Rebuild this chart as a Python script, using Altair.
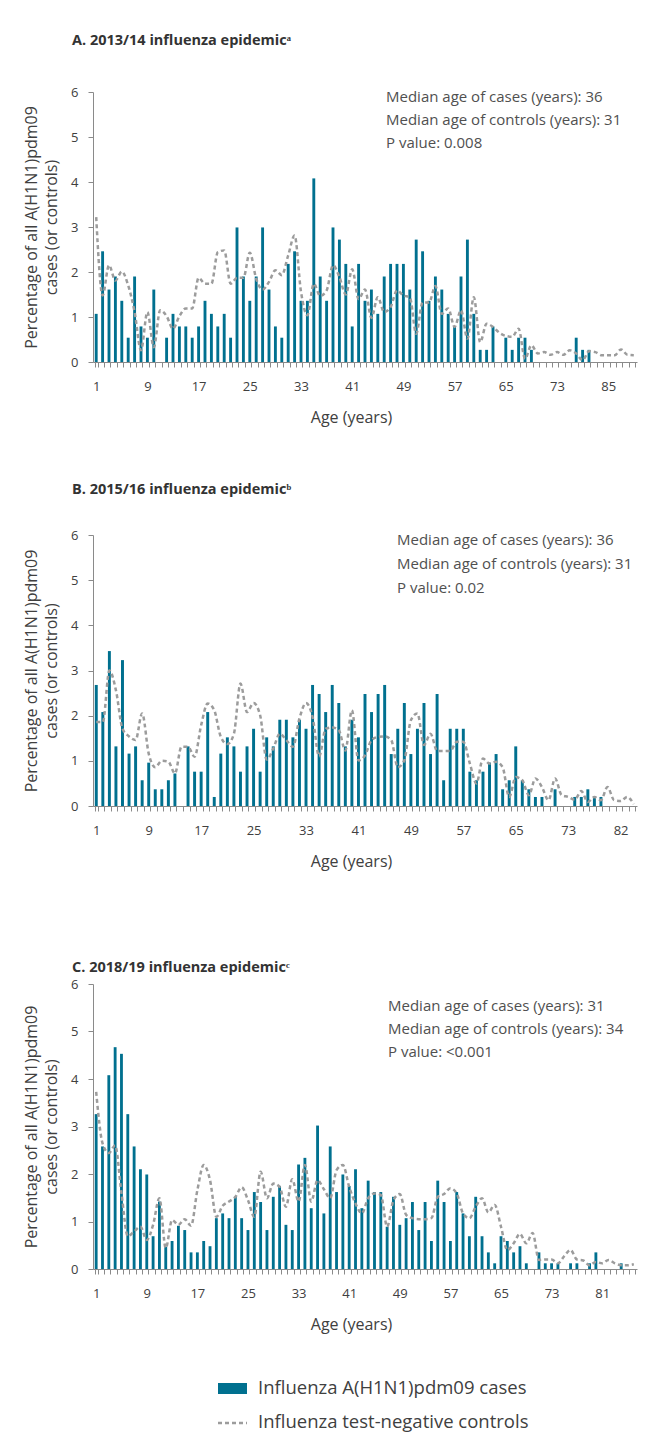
import altair as alt
import pandas as pd

TEAL = "#00708f"
GRAY = "#9c9c9c"
FONT = "Open Sans"

# ---------------- data ----------------
ages_a = [str(i) for i in range(1, 74)] + ["74", "75", "76", "77", "78", "79", "81", "85", "86", "87", "88", "89"]
cases_a = [1.07, 2.46, 1.61, 1.90, 1.36, 0.54, 1.90, 0.79, 0.54, 1.61,
           0.00, 0.54, 1.07, 0.79, 0.79, 0.54, 0.79, 1.36, 1.07, 0.79,
           1.07, 0.54, 2.99, 1.90, 1.36, 1.90, 2.99, 1.61, 0.79, 0.54,
           2.18, 2.46, 1.36, 1.36, 4.08, 1.90, 1.36, 2.99, 2.72, 2.18,
           0.79, 2.18, 1.36, 1.61, 1.07, 1.90, 2.18, 2.18, 2.18, 1.61,
           2.72, 2.46, 1.36, 1.90, 1.61, 1.07, 0.79, 1.90, 2.72, 1.07,
           0.27, 0.27, 0.79, 0.00, 0.54, 0.27, 0.54, 0.54, 0.27, 0.00,
           0.00, 0.00, 0.00, 0.00, 0.00, 0.54, 0.27, 0.27, 0.00, 0.00,
           0.00, 0.00, 0.00, 0.00, 0.00]
controls_a = [3.22, 1.48, 2.15, 1.81, 2.01, 1.70, 1.11, 0.26, 1.11, 0.33,
              1.15, 1.02, 0.74, 1.02, 1.19, 1.19, 1.87, 1.74, 1.74, 2.44,
              2.48, 1.74, 1.87, 1.87, 2.43, 1.85, 1.61, 1.78, 2.04, 1.93,
              2.37, 2.81, 1.56, 1.04, 1.74, 1.47, 1.59, 2.15, 1.89, 1.50,
              2.06, 1.40, 1.61, 0.98, 1.44, 1.11, 1.22, 1.59, 1.48, 1.44,
              0.63, 1.32, 1.32, 1.69, 1.07, 1.19, 0.78, 1.15, 0.52, 1.44,
              0.44, 0.85, 0.78, 0.65, 0.58, 0.56, 0.74, 0.07, 0.37, 0.19,
              0.22, 0.16, 0.22, 0.16, 0.26, 0.19, 0.04, 0.24, 0.22, 0.15,
              0.15, 0.15, 0.28, 0.16, 0.15]

ages_b = [str(i) for i in range(1, 74)] + ["74", "75", "76", "77", "78", "79", "80", "82", "83", "84"]
cases_b = [2.68, 2.08, 3.43, 1.32, 3.23, 1.16, 1.32, 0.57, 0.96, 0.37,
           0.37, 0.57, 0.72, 0.00, 1.32, 0.76, 0.76, 2.08, 0.20, 1.16,
           1.52, 1.32, 0.76, 1.32, 1.71, 0.76, 1.52, 1.32, 1.91, 1.91,
           1.52, 1.91, 1.71, 2.68, 2.48, 2.08, 2.68, 2.28, 1.32, 1.91,
           1.52, 2.48, 2.08, 2.48, 2.68, 1.15, 1.71, 2.28, 1.15, 1.71,
           2.28, 1.15, 2.48, 0.57, 1.71, 1.71, 1.71, 0.76, 0.57, 0.76,
           0.96, 1.15, 0.37, 0.57, 1.32, 0.57, 0.37, 0.20, 0.20, 0.00,
           0.37, 0.00, 0.00, 0.20, 0.20, 0.37, 0.20, 0.20, 0.00, 0.00,
           0.00, 0.00, 0.00]
controls_b = [1.86, 1.86, 3.00, 2.56, 1.71, 1.54, 1.46, 2.05, 1.16, 0.86,
              1.00, 0.98, 0.72, 1.31, 1.31, 1.09, 1.79, 2.27, 2.12, 1.53,
              1.37, 1.60, 2.71, 2.08, 2.28, 2.01, 1.03, 1.27, 1.60, 1.46,
              1.31, 1.94, 2.28, 1.97, 1.10, 1.71, 1.74, 1.68, 1.23, 2.12,
              1.01, 1.12, 1.46, 1.53, 1.54, 1.46, 0.86, 1.01, 1.90, 2.05,
              1.35, 1.60, 1.22, 1.22, 1.22, 1.42, 1.42, 0.94, 0.50, 1.05,
              0.94, 0.98, 0.86, 0.20, 0.64, 0.57, 0.24, 0.61, 0.42, 0.13,
              0.61, 0.24, 0.20, 0.14, 0.33, 0.09, 0.20, 0.13, 0.42, 0.13,
              0.11, 0.20, 0.04]

ages_c = [str(i) for i in range(1, 87)]
cases_c = [3.26, 2.58, 4.08, 4.67, 4.53, 3.26, 2.58, 2.10, 1.99, 0.69,
           1.42, 0.47, 0.59, 0.91, 0.82, 0.35, 0.35, 0.59, 0.48, 1.07,
           1.17, 1.07, 1.52, 1.07, 0.82, 1.62, 1.41, 0.82, 1.52, 1.75,
           0.93, 0.82, 2.20, 2.34, 1.28, 3.02, 1.17, 2.58, 1.62, 1.99,
           1.75, 2.10, 1.28, 1.86, 1.62, 1.62, 0.89, 1.52, 0.93, 1.07,
           1.41, 0.82, 1.41, 0.59, 1.86, 1.41, 0.59, 1.62, 1.17, 0.69,
           1.52, 0.69, 0.35, 0.12, 0.69, 0.59, 0.35, 0.48, 0.12, 0.00,
           0.35, 0.12, 0.12, 0.12, 0.00, 0.12, 0.12, 0.00, 0.12, 0.35,
           0.00, 0.00, 0.00, 0.12, 0.00, 0.00]
controls_c = [3.73, 2.65, 2.44, 2.60, 1.60, 0.69, 0.79, 0.89, 0.61, 0.93,
              1.49, 0.44, 1.03, 0.93, 1.05, 0.91, 1.66, 2.19, 1.87, 1.10,
              1.33, 1.42, 1.52, 1.72, 1.45, 1.10, 2.05, 1.49, 1.80, 1.73,
              1.31, 1.89, 1.42, 2.19, 1.42, 1.87, 1.68, 1.49, 2.08, 2.19,
              1.73, 1.38, 1.17, 1.49, 1.59, 1.56, 0.89, 1.45, 1.58, 1.14,
              1.07, 1.05, 1.05, 1.07, 1.52, 1.58, 1.70, 1.59, 1.17, 1.07,
              1.31, 1.49, 1.19, 1.35, 0.89, 0.40, 0.54, 0.74, 0.54, 0.76,
              0.19, 0.20, 0.20, 0.12, 0.27, 0.40, 0.20, 0.18, 0.08, 0.15,
              0.12, 0.19, 0.12, 0.08, 0.08, 0.10]

titles = ["A. 2013/14 influenza epidemic\u1d43",
          "B. 2015/16 influenza epidemic\u1d47",
          "C. 2018/19 influenza epidemic\u1d9c"]
notes_a = ["Median age of cases (years): 36", "Median age of controls (years): 31", "P value: 0.008"]
notes_b = ["Median age of cases (years): 36", "Median age of controls (years): 31", "P value: 0.02"]
notes_c = ["Median age of cases (years): 31", "Median age of controls (years): 34", "P value: <0.001"]
y_title = ["Percentage of all A(H1N1)pdm09", "cases (or controls)"]
x_title = "Age (years)"
legend_labels = ["Influenza A(H1N1)pdm09 cases", "Influenza test-negative controls"]
y_ticks = [0, 1, 2, 3, 4, 5, 6]

W = 544


def one():
    return pd.DataFrame({"k": [0]})


def panel(ages, cases, controls, title, title_y, notes, note_x, note_y, note_lh, height, legend=False):
    df = pd.DataFrame({"age": ages, "cases": cases, "controls": controls,
                       "idx": list(range(len(ages)))})
    shown = ages[::8]
    expr = "indexof([" + ",".join("'%s'" % a for a in shown) + "], datum.label) >= 0 ? datum.label : ''"
    xscale = alt.Scale(paddingInner=0.55, paddingOuter=0.275)
    xaxis = alt.Axis(title=x_title, labelAngle=0, labelExpr=expr, labelOverlap=False,
                     tickBand="extent", labelPadding=13, titlePadding=16, titleX=258)
    yscale = alt.Scale(domain=[0, 6], nice=False)
    yaxis = alt.Axis(title=y_title, values=y_ticks, labelPadding=10, titlePadding=11,
                     titleLineHeight=20)
    bars = alt.Chart(df).mark_bar(color=TEAL).encode(
        x=alt.X("age:N", sort=ages, scale=xscale, axis=xaxis),
        y=alt.Y("cases:Q", scale=yscale, axis=yaxis),
    )
    line = alt.Chart(df).mark_line(color=GRAY, strokeWidth=2.5, strokeDash=[4, 3],
                                   interpolate="monotone").encode(
        x=alt.X("age:N", sort=ages, scale=xscale, axis=xaxis),
        y=alt.Y("controls:Q", scale=yscale, axis=yaxis),
        order=alt.Order("idx:Q"),
    )
    head = alt.Chart(one()).mark_text(text=title, align="left", baseline="middle",
                                      fontSize=14.5, fontWeight="bold", font=FONT,
                                      color="#333333").encode(
        x=alt.value(-21), y=alt.value(title_y))
    note = alt.Chart(one()).mark_text(text=notes, lineHeight=note_lh, align="left",
                                      baseline="middle", fontSize=15, font=FONT,
                                      color="#505050").encode(
        x=alt.value(note_x), y=alt.value(note_y))
    layers = [bars, line, head, note]
    if legend:
        layers += [
            alt.Chart(one()).mark_rect(color=TEAL).encode(
                x=alt.value(125), x2=alt.value(154), y=alt.value(399), y2=alt.value(410)),
            alt.Chart(one()).mark_rule(color=GRAY, strokeWidth=2.5, strokeDash=[4, 3]).encode(
                x=alt.value(125), x2=alt.value(154), y=alt.value(439)),
            alt.Chart(one()).mark_text(text=legend_labels[0], align="left", baseline="middle",
                                       fontSize=18.5, font=FONT, color="#404040").encode(
                x=alt.value(165), y=alt.value(404)),
            alt.Chart(one()).mark_text(text=legend_labels[1], align="left", baseline="middle",
                                       fontSize=18.5, font=FONT, color="#404040").encode(
                x=alt.value(165), y=alt.value(438)),
        ]
    return alt.layer(*layers).properties(width=W, height=height)


def spacer(h):
    return alt.Chart(one()).mark_text(text="").encode(
        x=alt.value(0), y=alt.value(0)).properties(width=W, height=h)


pA = panel(ages_a, cases_a, controls_a, titles[0], -51, notes_a, 293, 5, 23, 270)
pB = panel(ages_b, cases_b, controls_b, titles[1], -45, notes_b, 304, 5, 24, 271)
pC = panel(ages_c, cases_c, controls_c, titles[2], -16, notes_c, 295, 22, 23, 285, legend=True)

chart = alt.vconcat(pA, spacer(51), pB, spacer(85), pC, spacing=0).properties(
    padding={"left": 15, "top": 25, "right": 0, "bottom": 0}
).configure_view(stroke=None).configure_axis(
    grid=False, domainColor="#8a8a8a", tickColor="#8a8a8a", tickSize=5,
    labelColor="#404040", titleColor="#404040", labelFont=FONT, titleFont=FONT,
    labelFontSize=13, titleFontSize=16, titleFontWeight="normal",
)

chart.save("out.html", embed_options={"renderer": "svg", "actions": False})
